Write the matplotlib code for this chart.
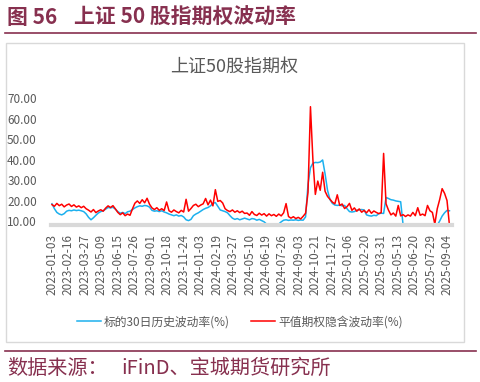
import numpy as np
import matplotlib
matplotlib.use("Agg")
import matplotlib.pyplot as plt
from matplotlib.patches import Rectangle
from matplotlib.lines import Line2D

plt.rcParams['font.family'] = ['Noto Sans CJK SC', 'DejaVu Sans']

# ---------------- data ----------------
step = 4  # sampling step in trading days
tick_labels = ["2023-01-03", "2023-02-16", "2023-03-27", "2023-05-09", "2023-06-15",
               "2023-07-26", "2023-09-01", "2023-10-18", "2023-11-24", "2024-01-03",
               "2024-02-19", "2024-03-27", "2024-05-10", "2024-06-19", "2024-07-26",
               "2024-09-03", "2024-10-21", "2024-11-27", "2025-01-06", "2025-02-20",
               "2025-03-31", "2025-05-13", "2025-06-20", "2025-07-29", "2025-09-04"]
tick_every = 27

implied_vol = [
    18.0, 17.2, 18.6, 17.5, 18.2, 16.9, 17.8, 18.3, 17.1, 17.9,
    16.8, 17.4, 16.5, 17.2, 16.0, 15.3, 14.4, 15.6, 14.1, 14.9,
    15.5, 14.8, 16.3, 17.4, 16.6, 17.5, 15.9, 14.2, 13.1, 14.0,
    12.6, 13.4, 12.8, 15.9, 18.7, 19.8, 18.6, 20.4, 18.9, 21.1,
    18.2, 16.4, 15.6, 16.5, 15.2, 16.0, 15.1, 19.3, 15.0, 14.3,
    15.4, 14.6, 14.0, 15.2, 14.4, 20.6, 14.8, 16.1, 17.6, 18.2,
    17.0, 17.8, 18.4, 21.0, 17.9, 20.2, 17.4, 25.3, 19.6, 20.0,
    18.8, 16.0, 15.1, 14.6, 15.4, 14.3, 15.0, 14.1, 14.8, 13.7,
    13.9, 12.8, 14.6, 13.2, 12.7, 13.8, 12.9, 13.6, 12.4, 13.5,
    12.6, 13.2, 12.3, 13.4, 12.5, 14.0, 18.5, 12.2, 11.4, 12.1,
    11.2, 11.8, 11.0, 12.3, 13.8, 24.0, 65.8, 40.0, 23.0, 29.5,
    25.0, 33.8, 24.5, 22.0, 20.6, 19.2, 18.4, 22.8, 17.6, 18.3,
    16.1, 17.0, 18.6, 15.2, 16.4, 14.8, 15.9, 14.3, 15.2, 14.0,
    15.5, 13.8, 14.9, 14.2, 13.6, 14.1, 43.0, 18.4, 15.3, 13.0,
    13.9, 12.4, 17.6, 12.5, 13.1, 12.2, 13.0, 12.4, 14.2, 12.6,
    16.5, 12.8, 13.4, 12.6, 17.6, 15.0, 14.2, 8.5, 16.0, 20.5,
    25.8, 23.5, 20.0, 8.0,
]

hist_vol = [
    18.4, 16.0, 14.2, 13.4, 13.0, 13.6, 14.8, 15.2, 15.0, 15.4,
    15.1, 15.3, 15.0, 14.6, 13.5, 11.8, 10.6, 11.6, 12.8, 13.9,
    14.6, 15.0, 15.8, 16.6, 16.4, 16.7, 15.8, 14.6, 13.8, 14.2,
    13.6, 14.5, 14.8, 15.6, 16.4, 17.0, 17.4, 17.2, 17.6, 17.4,
    16.8, 15.2, 14.8, 15.0, 14.6, 15.0, 14.4, 14.0, 13.4, 13.0,
    12.6, 13.0, 12.4, 12.7, 12.0, 10.6, 10.2, 10.8, 12.6, 13.4,
    14.0, 14.8, 15.6, 16.2, 16.6, 17.4, 18.6, 19.0, 17.2, 15.4,
    15.0, 14.6, 14.0, 12.6, 11.4, 10.8, 11.2, 10.6, 11.0, 11.4,
    11.0, 10.6, 11.2, 11.0, 10.4, 10.8, 10.2, 9.6, 8.5, 8.0,
    8.0, 8.0, 8.0, 8.5, 9.6, 10.4, 10.6, 10.3, 10.5, 10.4,
    10.6, 10.3, 10.5, 10.4, 12.0, 28.0, 36.0, 38.2, 38.6, 38.5,
    38.8, 39.8, 33.0, 25.0, 20.5, 18.6, 17.8, 17.6, 17.8, 17.4,
    17.6, 16.0, 14.6, 14.4, 14.6, 15.2, 15.5, 15.6, 15.4, 13.0,
    12.6, 12.4, 12.8, 12.6, 13.6, 13.8, 13.7, 21.5, 21.0, 20.4,
    20.2, 19.8, 19.6, 19.4, 8.0, 8.0, 8.0, 8.0, 8.0, 8.0,
    8.0, 8.0, 8.0, 8.0, 8.0, 8.0, 8.0, 8.0, 8.0, 10.0,
    12.4, 14.0, 15.2, 15.0,
]

series_names = ["标的30日历史波动率(%)", "平值期权隐含波动率(%)"]
yticks = [10, 20, 30, 40, 50, 60, 70]

# ---------------- layout ----------------
W, H = 481, 382
fig = plt.figure(figsize=(W / 100, H / 100), dpi=100)
maroon = '#87304F'
gray_txt = '#595959'

def fx(px):
    return px / W

def fy(py):
    return 1 - py / H

# header / footer
fig.text(fx(7), fy(17), "图 56", color=maroon, fontsize=15,
         fontweight='bold', va='center', ha='left')
fig.text(fx(74), fy(17), "上证 50 股指期权波动率", color=maroon, fontsize=15,
         fontweight='bold', va='center', ha='left')
fig.add_artist(Line2D([fx(5), fx(476)], [fy(32.5), fy(32.5)], color=maroon, lw=1.2))
fig.add_artist(Line2D([fx(5), fx(476)], [fy(351), fy(351)], color=maroon, lw=1.2))
fig.text(fx(7), fy(368), "数据来源：", color=maroon, fontsize=14.5,
         va='center', ha='left')
fig.text(fx(121), fy(368), "iFinD、宝城期货研究所", color=maroon, fontsize=14.5,
         va='center', ha='left')

# chart frame
fig.add_artist(Rectangle((fx(6), fy(342)), fx(464) - fx(6), fy(43) - fy(342),
                         transform=fig.transFigure, fill=False, edgecolor='#D9D9D9', lw=1))
fig.text(fx(234), fy(67), "上证50股指期权", color=gray_txt, fontsize=13,
         va='center', ha='center')

ax = fig.add_axes([fx(50.7), fy(224.5), fx(451.7) - fx(50.7), fy(94) - fy(224.5)])
x_imp = np.arange(len(implied_vol)) * step
x_his = np.arange(len(hist_vol)) * step
ax.plot(x_his, hist_vol, color='#1CB0EE', lw=1.1, label=series_names[0], zorder=2)
ax.plot(x_imp, implied_vol, color='#FF0000', lw=1.1, label=series_names[1], zorder=2.1)

ax.set_xlim(-2.1, 655.7)
ax.set_ylim(8.3, 72)
ax.set_yticks(yticks)
ax.set_yticklabels([f"{v:.2f}" for v in yticks])
tick_pos = np.arange(len(tick_labels)) * tick_every
ax.set_xticks(tick_pos)
ax.set_xticklabels(tick_labels, rotation=90)
ax.tick_params(axis='both', length=0, colors=gray_txt, labelsize=8.5)
ax.tick_params(axis='y', pad=10)
ax.tick_params(axis='x', pad=7)
for s in ['top', 'right', 'left']:
    ax.spines[s].set_visible(False)
ax.spines['bottom'].set_color('#D9D9D9')
ax.spines['bottom'].set_linewidth(3)
ax.spines['bottom'].set_zorder(3)
ax.patch.set_alpha(0)

fig.legend(loc='center', bbox_to_anchor=(fx(240), fy(322)), ncol=2, frameon=False,
           fontsize=8.5, handlelength=2.0, columnspacing=1.8, handletextpad=0.3,
           labelcolor=gray_txt)

fig.savefig('out.png', dpi=100)
